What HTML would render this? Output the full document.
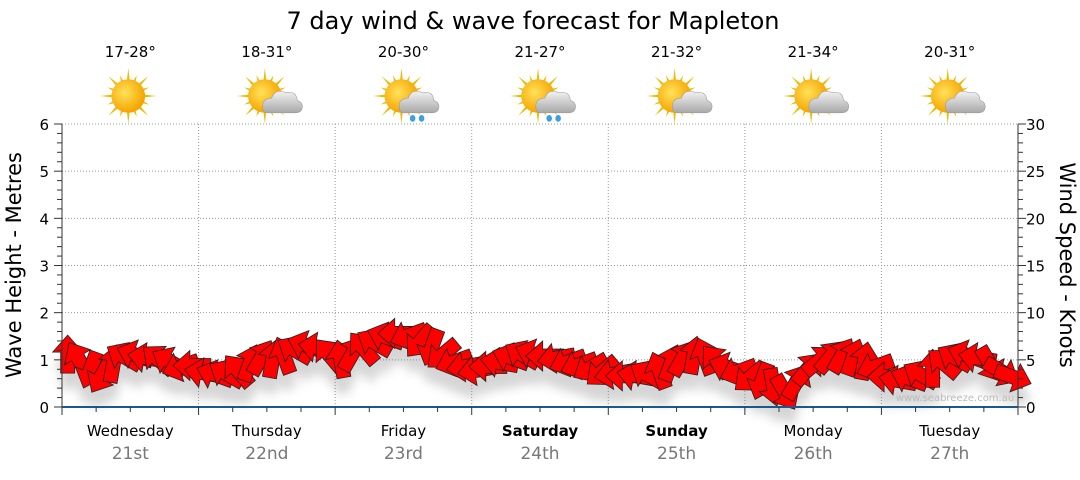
<!DOCTYPE html>
<html><head><meta charset="utf-8"><style>
body{margin:0;background:#fff;width:1080px;height:475px;overflow:hidden;font-family:"Liberation Sans",sans-serif}
svg text{font-family:"DejaVu Sans","Liberation Sans",sans-serif}
</style></head><body>
<svg id="c" width="1080" height="475" viewBox="0 0 1080 475">
<defs>
<filter id="sh" x="-50%" y="-50%" width="200%" height="200%"><feGaussianBlur stdDeviation="5"/></filter>
<radialGradient id="sun" cx="40%" cy="40%" r="60%"><stop offset="0" stop-color="#ffe25a"/><stop offset="1" stop-color="#f5a400"/></radialGradient>
<linearGradient id="cl" x1="0" y1="0" x2="0" y2="1"><stop offset="0" stop-color="#f2f2f2"/><stop offset="1" stop-color="#a8a8a8"/></linearGradient>
</defs>
<text x="533" y="29" font-size="24" text-anchor="middle" fill="#000">7 day wind &amp; wave forecast for Mapleton</text>
<g id="grid"></g><g id="icons"></g><g id="shadows" filter="url(#sh)" opacity="0.3"></g><g id="arrows"></g><g id="axes"></g>
<text x="955" y="401" font-size="10" text-anchor="middle" fill="#bbb">www.seabreeze.com.au</text>
<text transform="translate(21,265) rotate(-90)" font-size="21" text-anchor="middle">Wave Height - Metres</text>
<text transform="translate(1060,265) rotate(90)" font-size="21" text-anchor="middle">Wind Speed - Knots</text>
</svg>
<script>
const days=["Wednesday","Thursday","Friday","Saturday","Sunday","Monday","Tuesday"];
const dates=["21st","22nd","23rd","24th","25th","26th","27th"];
const boldDays=[false,false,false,true,true,false,false];
const temps=["17-28°","18-31°","20-30°","21-27°","21-32°","21-34°","20-31°"];
const weather=["sun","cloud","rain","rain","cloud","cloud","cloud"];
const waveTicks=[0,1,2,3,4,5,6];
const windTicks=[0,5,10,15,20,25,30];
// wind speed (knots), 2-hourly, 7 days x 12
const windSpeed=[5.5,5.0,4.0,3.4,4.5,5.3,5.5,5.2,5.0,4.8,4.3,4.4,
3.6,3.4,3.5,3.8,4.6,5.2,5.0,5.4,6.0,6.5,6.3,5.5,
5.0,5.6,6.2,6.8,7.4,7.8,7.6,7.0,6.4,5.6,4.8,4.3,
3.9,4.3,4.7,5.2,5.5,5.6,5.4,5.2,4.8,4.5,4.2,3.8,
3.5,3.3,3.3,3.4,3.8,4.6,5.1,5.4,5.3,4.8,4.2,3.8,
3.2,2.8,2.2,1.6,2.6,4.0,4.9,5.3,5.4,5.2,4.8,4.3,
3.2,2.8,3.0,3.4,4.0,4.6,5.2,5.5,5.2,4.6,3.8,3.2];
// direction arrow points toward (deg, 0=up, 90=right)
const windDir=[0,330,200,210,10,300,290,280,310,300,250,270,
280,290,300,320,20,30,10,340,300,290,280,320,
350,30,320,300,290,270,250,220,200,230,250,260,
260,270,280,290,300,290,270,260,250,250,240,230,
260,270,280,300,340,20,30,10,340,320,290,250,
230,200,170,150,30,40,50,40,30,20,10,250,
270,280,290,300,0,310,300,290,280,150,120,110];
const NS="http://www.w3.org/2000/svg";
const X0=62,X1=1018,Y0=407,Y1=124;
const xT=t=>X0+(X1-X0)*t/(7*24);
const yW=m=>Y0-(Y0-Y1)*m/6;
const yK=k=>Y0-(Y0-Y1)*k/30;
function el(tag,attrs,parent,txt){const e=document.createElementNS(NS,tag);for(const k in attrs)e.setAttribute(k,attrs[k]);if(txt!==undefined)e.textContent=txt;parent.appendChild(e);return e;}
const grid=document.getElementById('grid'),axes=document.getElementById('axes'),icons=document.getElementById('icons'),arrows=document.getElementById('arrows'),shadows=document.getElementById('shadows');
waveTicks.forEach(v=>{
 if(v>0){const l=el('line',{x1:X0,x2:X1,y1:yW(v),y2:yW(v),stroke:'#999','stroke-dasharray':'1,2'},grid);
 
 }
 const t=el('text',{x:49,y:yW(v)+6,'font-size':15,'text-anchor':'end'},axes,v);
 
 
});
windTicks.forEach(v=>{
 const t=el('text',{x:1026,y:yK(v)+6,'font-size':15},axes,v);
 
 
});
for(let i=0;i<=30;i++){const y=Y0-(Y0-Y1)*i/30;const w=i%5==0?8:5;
 el('line',{x1:X0-w,x2:X0,y1:y,y2:y,stroke:'#333'},axes);
 el('line',{x1:X1,x2:X1+w,y1:y,y2:y,stroke:'#333'},axes);}
el('line',{x1:X0,x2:X0,y1:Y1,y2:Y0,stroke:'#333'},axes);
el('line',{x1:X1,x2:X1,y1:Y1,y2:Y0,stroke:'#333'},axes);
el('line',{x1:X0,x2:X1,y1:Y0,y2:Y0,stroke:'#1a5a8a','stroke-width':2},axes);
for(let h=0;h<=168;h+=6){const x=xT(h);el('line',{x1:x,x2:x,y1:Y0,y2:Y0+(h%24==0?8:5),stroke:'#333'},axes);}
days.forEach((d,i)=>{
 const cx=xT(i*24+12);
 if(i>0){const l=el('line',{x1:xT(i*24),x2:xT(i*24),y1:Y1,y2:Y0,stroke:'#999','stroke-dasharray':'1,2'},grid);
 
 }
 const a=el('text',{x:cx,y:436,'font-size':15,'text-anchor':'middle','font-weight':boldDays[i]?'bold':'normal'},axes,d);
 
 
 const b=el('text',{x:cx,y:459,'font-size':17,'text-anchor':'middle',fill:'#777'},axes,dates[i]);
 
 
 const t=el('text',{x:cx,y:57,'font-size':15,'text-anchor':'middle'},icons,temps[i]);
 
 
 const g=el('g',{transform:`translate(${cx-2},96) scale(1.12)`},icons);
 
 
 for(let r=0;r<16;r++){const ang=r*22.5*Math.PI/180,L=r%2?20:25;
  el('polygon',{points:`${Math.cos(ang-0.12)*12},${Math.sin(ang-0.12)*12} ${Math.cos(ang)*L},${Math.sin(ang)*L} ${Math.cos(ang+0.12)*12},${Math.sin(ang+0.12)*12}`,fill:'#f0b800'},g);}
 el('circle',{cx:0,cy:0,r:15,fill:'url(#sun)'},g);
 if(weather[i]!='sun'){
  el('path',{d:'M2,15 Q-2,15 -2,9 Q-2,2 6,2 Q9,-7 19,-3 Q28,-5 29,4 Q35,6 33,12 Q32,15 27,15 Z',fill:'url(#cl)',stroke:'#999','stroke-width':0.5},g);
 }
 if(weather[i]=='rain'){el('ellipse',{cx:10,cy:20,rx:2.5,ry:3,fill:'#3aa0e0'},g);el('ellipse',{cx:18,cy:20,rx:2.5,ry:3,fill:'#3aa0e0'},g);}
});
const arrowPts="0,-20 15,-3 7,-3 7,18 -7,18 -7,-3 -15,-3";
windSpeed.forEach((s,i)=>{
 const x=xT(i*2+1),y=yK(s);
 el('polygon',{points:arrowPts,transform:`translate(${x},${y+16}) rotate(${windDir[i]})`,fill:'#777'},shadows);
 const p=el('polygon',{points:arrowPts,transform:`translate(${x},${y}) rotate(${windDir[i]})`,fill:'#ff0000',stroke:'#222','stroke-width':0.8},arrows);
 
 
});
</script>
</body></html>
